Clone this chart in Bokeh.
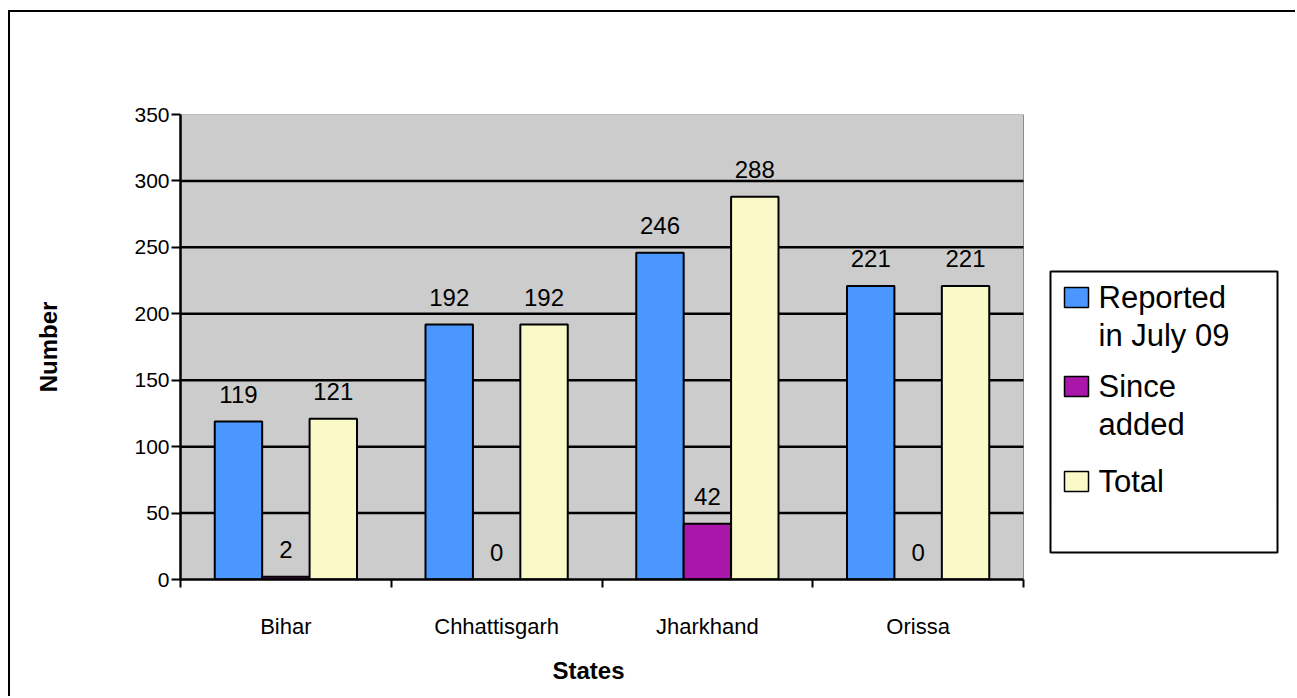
from bokeh.plotting import figure
from bokeh.models import Range1d, FixedTicker, BoxAnnotation, Label, ColumnDataSource, Title
from bokeh.core.properties import value
from bokeh.embed import file_html
from bokeh.resources import INLINE

# ---- data ----
states = ["Bihar", "Chhattisgarh", "Jharkhand", "Orissa"]
reported = [119, 192, 246, 221]
since_added = [2, 0, 42, 0]
total = [121, 192, 288, 221]
series_names = ["Reported\nin July 09", "Since\nadded", "Total"]
series_colors = ["#4A98FF", "#A916A9", "#FAFAC8"]
y_ticks = [0, 50, 100, 150, 200, 250, 300, 350]
x_title = "States"
y_title = "Number"

# ---- layout (window coordinates) ----
WIN_W, WIN_H = 1297, 698
OX, OY = 10, 12                    # canvas origin inside the window (after border)
FL, FR, FT, FB = 180, 1023, 114, 579  # plot-area edges in window coordinates
FONT = "Liberation Sans"

CW, CH = WIN_W - OX, WIN_H - OY
frame_w = CW - (FL - OX)           # frame reaches the right edge of the canvas
x_end = len(states) * frame_w / (FR - FL)

def sx(wx):
    return wx - FL

def sy(wy):
    return FB - wy

p = figure(width=CW, height=CH, title=None,
           x_range=Range1d(0, x_end), y_range=Range1d(y_ticks[0], y_ticks[-1]),
           output_backend="svg", toolbar_location=None,
           min_border_left=FL - OX, min_border_right=0,
           min_border_top=FT - OY, min_border_bottom=WIN_H - FB)
p.margin = (OY - 2, 0, 0, OX - 2)
p.styles = {"border-left": "2px solid black", "border-top": "2px solid black"}

p.background_fill_color = "white"
p.border_fill_color = "white"
p.outline_line_color = None
p.xgrid.visible = False
p.ygrid.visible = False

# plot area (gray) and gridlines, limited to the category span
n = len(states)
p.quad(left=[0], right=[n], bottom=[y_ticks[0]], top=[y_ticks[-1]],
       fill_color="#CCCCCC", line_color="#8A8A8A", line_width=1)
p.segment(x0=[0] * (len(y_ticks) - 2), x1=[n] * (len(y_ticks) - 2),
          y0=y_ticks[1:-1], y1=y_ticks[1:-1], line_color="black", line_width=2.5)

# bars and data labels
bw = 0.225
centers = [i + 0.5 for i in range(n)]
for k, (vals, color) in enumerate(zip([reported, since_added, total], series_colors)):
    xs = [c + (k - 1) * bw for c in centers]
    src = ColumnDataSource(dict(x=xs, top=vals, label=[str(v) for v in vals]))
    p.vbar(x="x", top="top", bottom=0, width=bw, source=src,
           fill_color=color, line_color="black", line_width=2)
    p.text(x="x", y="top", text="label", source=src,
           text_align="center", text_baseline="middle", y_offset=-27,
           text_font=value(FONT), text_font_size="24px", text_color="black")

# x axis
xa = p.xaxis[0]
xa.bounds = (0, n)
xa.ticker = FixedTicker(ticks=centers, minor_ticks=list(range(n + 1)))
xa.major_label_overrides = {c: s for c, s in zip(centers, states)}
xa.major_tick_out = 0
xa.major_tick_in = 0
xa.minor_tick_out = 8
xa.minor_tick_in = 0
xa.minor_tick_line_color = "black"
xa.minor_tick_line_width = 2
xa.axis_line_color = "black"
xa.axis_line_width = 2.5
xa.major_label_text_font = FONT
xa.major_label_text_font_size = "22px"
xa.major_label_text_color = "black"
xa.major_label_standoff = 26

# x axis title, placed under the category span (the frame extends under the legend)
title_center = 588
title_w = 72
p.add_layout(Title(text=x_title, align="left",
                   offset=title_center - FL - title_w / 2,
                   text_font=FONT, text_font_style="bold", text_font_size="24px",
                   text_color="black", standoff=27), "below")

# y axis
ya = p.yaxis[0]
ya.ticker = FixedTicker(ticks=y_ticks)
ya.major_tick_out = 9
ya.major_tick_in = 0
ya.major_tick_line_color = "black"
ya.major_tick_line_width = 2
ya.minor_tick_out = 0
ya.minor_tick_in = 0
ya.axis_line_color = "black"
ya.axis_line_width = 2.5
ya.major_label_text_font = FONT
ya.major_label_text_font_size = "21px"
ya.major_label_text_color = "black"
ya.major_label_standoff = 2
ya.axis_label = y_title
ya.axis_label_text_font = FONT
ya.axis_label_text_font_style = "bold"
ya.axis_label_text_font_size = "24px"
ya.axis_label_text_color = "black"
ya.axis_label_standoff = 69

# legend (drawn inside the extended frame, screen units)
def screen_box(l, r, t, b, **kw):
    return BoxAnnotation(left=sx(l), right=sx(r), top=sy(t), bottom=sy(b),
                         left_units="screen", right_units="screen",
                         top_units="screen", bottom_units="screen",
                         fill_alpha=1, line_color="black", line_alpha=1, **kw)

p.add_layout(screen_box(1050, 1277, 271, 552, fill_color="white", line_width=2))

first_line_centers = [297, 386, 481]
line_gap = 38
for name, color, cy in zip(series_names, series_colors, first_line_centers):
    p.add_layout(screen_box(1064, 1088, cy - 10, cy + 10, fill_color=color, line_width=1.5))
    for j, line in enumerate(name.split("\n")):
        p.add_layout(Label(x=sx(1098), y=sy(cy + j * line_gap), x_units="screen", y_units="screen",
                           text=line, text_baseline="middle", text_align="left",
                           text_font=FONT, text_font_size="31px", text_color="black"))

open("out.html", "w").write(file_html(p, INLINE))
